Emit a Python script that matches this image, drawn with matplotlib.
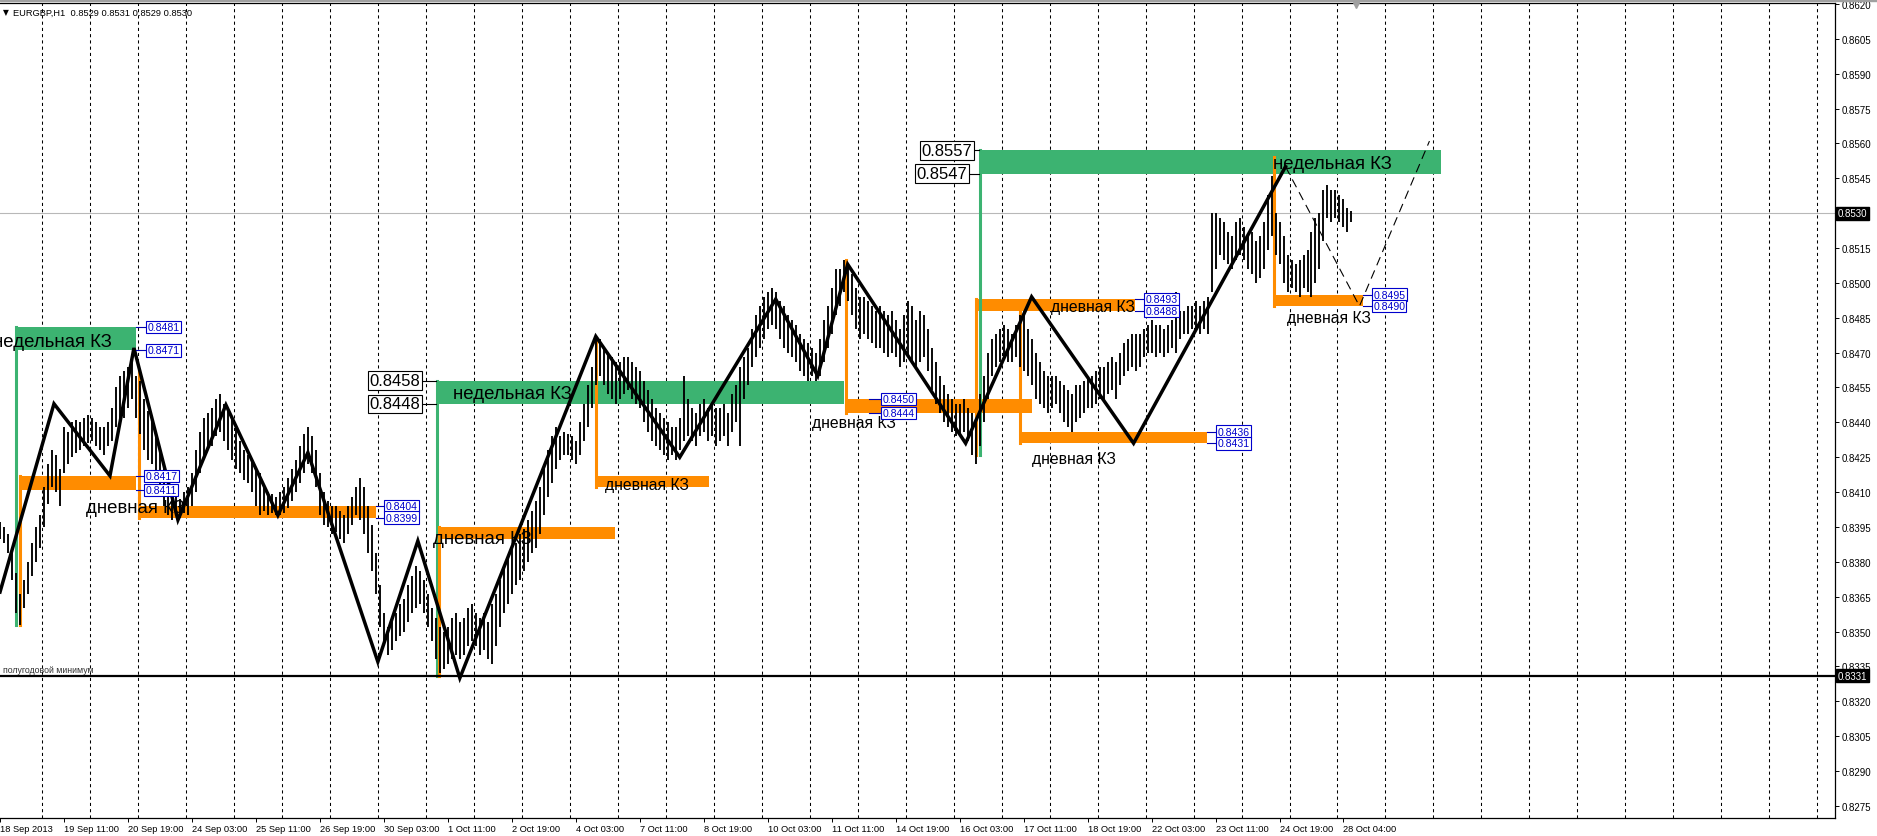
import numpy as np
import matplotlib.pyplot as plt
from matplotlib.patches import Rectangle
from matplotlib.transforms import blended_transform_factory

plt.rcParams['font.family'] = ['Liberation Sans', 'DejaVu Sans']

# EURGBP H1, every second hourly bar; values in pips above 0.8300
bar_lo = [90, 88, 84, 72, 58, 53, 60, 66, 74, 80,
          86, 95, 105, 112, 110, 104, 118, 122, 125, 127,
          128, 130, 131, 132, 130, 128, 126, 130, 132, 138,
          140, 142, 146, 150, 142, 135, 128, 124, 122, 115,
          110, 104, 100, 98, 100, 99, 101, 100, 104, 110,
          118, 126, 128, 130, 134, 136, 132, 128, 124, 120,
          118, 115, 114, 110, 104, 100, 102, 100, 101, 100,
          100, 101, 103, 106, 110, 114, 118, 122, 118, 112,
          100, 96, 95, 92, 93, 90, 88, 92, 96, 100,
          98, 92, 84, 76, 66, 52, 44, 40, 42, 46,
          48, 50, 54, 58, 60, 62, 58, 52, 46, 38,
          32, 34, 36, 38, 40, 38, 40, 44, 46, 44,
          40, 42, 38, 36, 44, 52, 58, 62, 66, 70,
          72, 76, 80, 84, 86, 92, 100, 108, 114, 120,
          124, 126, 126, 124, 122, 126, 132, 138, 146, 156,
          160, 156, 152, 150, 148, 150, 152, 154, 150, 148,
          146, 140, 136, 132, 130, 128, 126, 124, 126, 124,
          128, 132, 134, 132, 130, 134, 136, 132, 134, 130,
          132, 134, 130, 136, 140, 130, 150, 156, 164, 168,
          172, 176, 180, 182, 180, 176, 172, 170, 168, 166,
          162, 160, 158, 160, 158, 160, 166, 172, 178, 186,
          190, 196, 192, 186, 180, 176, 178, 176, 174, 172,
          172, 170, 168, 170, 168, 164, 166, 168, 166, 164,
          166, 168, 162, 154, 148, 144, 140, 138, 136, 134,
          134, 136, 132, 126, 122, 130, 140, 150, 160, 164,
          166, 168, 166, 166, 168, 164, 162, 160, 156, 150,
          148, 146, 144, 146, 148, 144, 140, 138, 136, 140,
          142, 144, 146, 146, 148, 150, 150, 152, 154, 150,
          156, 160, 162, 164, 162, 164, 168, 170, 170, 168,
          170, 168, 170, 172, 170, 176, 178, 178, 180, 180,
          178, 180, 178, 196, 206, 212, 210, 208, 206, 210,
          212, 210, 206, 204, 200, 202, 206, 214, 220, 212,
          208, 200, 196, 198, 196, 194, 198, 196, 194, 200,
          206, 218, 228, 226, 228, 226, 224, 222, 226]
bar_hi = [97, 95, 92, 86, 75, 66, 72, 80, 88, 95,
          100, 112, 122, 128, 126, 120, 138, 136, 140, 141,
          140, 142, 143, 142, 140, 138, 138, 140, 146, 155,
          160, 162, 164, 168, 160, 158, 150, 145, 140, 134,
          128, 120, 114, 108, 108, 107, 110, 112, 118, 128,
          136, 142, 144, 146, 150, 152, 148, 145, 142, 138,
          132, 128, 126, 124, 120, 118, 112, 110, 109, 108,
          110, 112, 116, 120, 124, 130, 135, 138, 134, 128,
          118, 110, 106, 104, 104, 102, 100, 104, 108, 112,
          116, 112, 104, 96, 84, 70, 58, 52, 55, 58,
          62, 64, 70, 74, 78, 76, 72, 66, 60, 56,
          52, 50, 52, 56, 58, 54, 56, 60, 62, 58,
          56, 58, 54, 62, 66, 72, 78, 82, 86, 88,
          92, 94, 98, 102, 106, 112, 120, 128, 134, 138,
          134, 136, 135, 134, 132, 140, 148, 156, 164, 176,
          176, 172, 170, 168, 166, 166, 168, 168, 166, 164,
          162, 158, 154, 150, 146, 144, 142, 140, 138, 138,
          142, 160, 150, 146, 144, 148, 150, 146, 148, 146,
          146, 148, 144, 152, 156, 164, 168, 172, 180, 186,
          190, 194, 196, 198, 196, 192, 190, 186, 184, 182,
          178, 176, 174, 172, 170, 176, 184, 190, 198, 206,
          206, 210, 208, 204, 198, 194, 194, 192, 190, 188,
          190, 188, 186, 188, 184, 180, 186, 192, 190, 184,
          188, 186, 180, 172, 166, 160, 156, 152, 150, 148,
          148, 150, 146, 144, 140, 152, 160, 170, 176, 178,
          180, 182, 180, 178, 182, 186, 188, 180, 176, 170,
          166, 162, 160, 160, 160, 158, 156, 154, 152, 156,
          156, 158, 160, 160, 162, 164, 164, 166, 168, 166,
          170, 174, 176, 178, 178, 178, 180, 182, 184, 182,
          182, 180, 182, 184, 196, 188, 188, 190, 190, 192,
          190, 192, 194, 230, 230, 228, 226, 222, 220, 226,
          228, 224, 220, 222, 218, 220, 226, 238, 246, 230,
          226, 220, 212, 210, 208, 210, 212, 214, 222, 228,
          230, 240, 242, 240, 240, 238, 236, 232, 231]

# x axis labels (one every 32 bars)
time_labels = ['18 Sep 2013', '19 Sep 11:00', '20 Sep 19:00', '24 Sep 03:00', '25 Sep 11:00',
               '26 Sep 19:00', '30 Sep 03:00', '1 Oct 11:00', '2 Oct 19:00', '4 Oct 03:00',
               '7 Oct 11:00', '8 Oct 19:00', '10 Oct 03:00', '11 Oct 11:00', '14 Oct 19:00',
               '16 Oct 03:00', '17 Oct 11:00', '18 Oct 19:00', '22 Oct 03:00', '23 Oct 11:00',
               '24 Oct 19:00', '28 Oct 04:00']

# zigzag (bar index, price) and the dashed projection
zz_bar = [0, 27, 55, 67, 89, 113, 139, 154, 189, 209, 230, 298, 340, 388, 409, 424, 483, 516, 567, 643]
zz_px = [0.8367, 0.8448, 0.8417, 0.8472, 0.8398, 0.84475, 0.8400, 0.8427, 0.8337, 0.8389,
         0.8330, 0.8477, 0.8425, 0.8493, 0.8460, 0.8508, 0.8431, 0.8494, 0.8431, 0.8550]
proj_bar = [643, 680, 715]
proj_px = [0.8550, 0.8490, 0.8561]

# weekly zones (green): start bar, end bar, top, bottom, end of the stem line
wk_x0 = [7.35, 217.85, 489.85]
wk_x1 = [67.85, 422.35, 720.85]
wk_hi = [0.8481, 0.8458, 0.8557]
wk_lo = [0.8471, 0.8448, 0.8547]
wk_stem = [0.8353, 0.8331, 0.8426]

# daily zones (orange)
dy_x0 = [9.35, 68.85, 218.85, 297.85, 422.85, 487.85, 509.85, 636.85]
dy_x1 = [67.85, 187.85, 307.85, 354.85, 516.35, 567.85, 603.85, 681.85]
dy_hi = [0.8417, 0.8404, 0.8395, 0.8417, 0.8450, 0.8493, 0.8436, 0.8495]
dy_lo = [0.8411, 0.8399, 0.8390, 0.8412, 0.8444, 0.8488, 0.8431, 0.8490]
dy_stem = [0.8353, 0.8462, 0.8331, 0.8476, 0.8510, 0.8426, 0.8492, 0.8554]

half_year_low = 0.8331
last_bid = 0.8530

GREEN = '#3cb371'
ORANGE = '#ff8c00'
W, H = 1877, 837

fig = plt.figure(figsize=(W / 100, H / 100), dpi=100)
ax = fig.add_axes([0, (H - 819) / H, 1835 / W, (819 - 4) / H])
ax.set_xlim(0.35, 917.85)
ax.set_ylim(0.82698, 0.86204)

# daily vertical grid
for g in range(21, 918, 24):
    ax.axvline(g, color='black', lw=0.75, ls=(0, (3, 3)), zorder=0.5)

# zones
for x0, x1, hi, lo, st in zip(wk_x0, wk_x1, wk_hi, wk_lo, wk_stem):
    ax.add_patch(Rectangle((x0, lo), x1 - x0, hi - lo, color=GREEN, lw=0, zorder=1))
    ax.plot([x0 + 0.5, x0 + 0.5], [hi, st], color=GREEN, lw=2.2, zorder=1.2)
for x0, x1, hi, lo, st in zip(dy_x0, dy_x1, dy_hi, dy_lo, dy_stem):
    ax.add_patch(Rectangle((x0, lo), x1 - x0, hi - lo, color=ORANGE, lw=0, zorder=1))
    top = max(hi, st)
    bot = min(lo, st)
    ax.plot([x0 + 0.5, x0 + 0.5], [top, bot], color=ORANGE, lw=2.2, zorder=1.3)

# price bars
bx = np.arange(len(bar_lo)) * 2
ax.vlines(bx, 0.83 + np.array(bar_lo) / 1e4, 0.83 + np.array(bar_hi) / 1e4,
          color='black', lw=1.35, zorder=2)

ax.axhline(half_year_low, color='black', lw=1.6, zorder=2.5)
ax.axhline(last_bid, color='#b8b8b8', lw=0.8, zorder=0.6)

ax.plot(zz_bar, zz_px, color='black', lw=2.5, zorder=4, solid_joinstyle='miter')
ax.plot(proj_bar, proj_px, color='black', lw=0.8, ls=(0, (8, 5)), zorder=4)

# zone captions
big, small = 13.4, 11.3
captions = [(-3.65, 0.84746, 'недельная КЗ', big), (42.85, 0.84032, 'дневная КЗ', big),
            (226.35, 0.84522, 'недельная КЗ', big), (216.35, 0.83899, 'дневная КЗ', big),
            (302.85, 0.84131, 'дневная КЗ', small), (406.35, 0.84398, 'дневная КЗ', small),
            (525.85, 0.84897, 'дневная КЗ', small), (636.85, 0.85512, 'недельная КЗ', big),
            (643.85, 0.84853, 'дневная КЗ', small), (516.35, 0.84243, 'дневная КЗ', small)]
for x, y, s, fs in captions:
    ax.text(x, y, s, fontsize=fs, ha='left', va='center', color='black', zorder=5)


def blue_tag(x, price, txt, gap=6):
    ax.plot([x, x + gap], [price, price], color='#0000b0', lw=0.8, zorder=5)
    ax.text(x + gap, price, txt, color='#0000cc', fontsize=7.6, ha='left', va='center', zorder=6,
            bbox=dict(boxstyle='square,pad=0.12', fc='white', ec='#0000cc', lw=0.8))


def black_tag(x, price, txt, gap):
    ax.plot([x - gap, x], [price, price], color='black', lw=0.8, zorder=5)
    ax.text(x - gap, price, txt, color='black', fontsize=12, ha='right', va='center', zorder=6,
            bbox=dict(boxstyle='square,pad=0.1', fc='white', ec='black', lw=0.8))


blue_tag(wk_x1[0], wk_hi[0], f'{wk_hi[0]:.4f}')
blue_tag(wk_x1[0], wk_lo[0], f'{wk_lo[0]:.4f}')
for i in [0, 1, 5, 6, 7]:
    blue_tag(dy_x1[i], dy_hi[i], f'{dy_hi[i]:.4f}', gap=5)
    blue_tag(dy_x1[i], dy_lo[i], f'{dy_lo[i]:.4f}', gap=5)
blue_tag(434.5, dy_hi[4], f'{dy_hi[4]:.4f}', gap=7)
blue_tag(434.5, dy_lo[4], f'{dy_lo[4]:.4f}', gap=7)
black_tag(wk_x0[1], wk_hi[1], f'{wk_hi[1]:.4f}', 7.5)
black_tag(wk_x0[1], wk_lo[1], f'{wk_lo[1]:.4f}', 7.5)
black_tag(wk_x0[2], wk_hi[2], f'{wk_hi[2]:.4f}', 3.5)
black_tag(wk_x0[2], wk_lo[2], f'{wk_lo[2]:.4f}', 6)

ax.text(1.4, half_year_low + 0.00006, 'полугодовой минимум', fontsize=6.3, color='#333333',
        ha='left', va='bottom', zorder=5)

# axes cosmetics
ax.spines['left'].set_visible(False)
for side in ['right', 'bottom', 'top']:
    ax.spines[side].set_linewidth(0.9)
ax.yaxis.tick_right()
yt = np.round(0.8275 + 0.0015 * np.arange(24), 4)
ax.set_yticks(yt)
# the bid box covers its own tick label
ax.set_yticklabels(['' if abs(v - last_bid) < 1e-6 else f'{v:.4f}' for v in yt])
ax.tick_params(axis='y', direction='out', length=3, width=0.7, labelsize=7, pad=2)
ax.set_xticks(np.arange(len(time_labels)) * 32)
ax.set_xticklabels(time_labels)
for lab in ax.get_xticklabels():
    lab.set_ha('left')
ax.tick_params(axis='x', direction='out', length=3, width=0.7, labelsize=6.7, pad=1.5)

tr = blended_transform_factory(ax.transAxes, ax.transData)
for v in [last_bid, half_year_low]:
    ax.text(1.0015, v, f'{v:.4f}', transform=tr, color='white', fontsize=7, ha='left', va='center',
            bbox=dict(boxstyle='square,pad=0.15', fc='black', ec='black'), zorder=7, clip_on=False)

ax.plot([678.4], [0.86195], marker='v', color='#a0a0a0', ms=5, clip_on=False, zorder=7)

fig.add_artist(Rectangle((0, 1 - 2 / H), 1, 2 / H, transform=fig.transFigure, color='#a0a0a0'))
fig.text(3 / W, 1 - 13 / H, '▼', fontsize=5.5, va='center', ha='left', family='DejaVu Sans')
fig.text(13 / W, 1 - 13 / H, 'EURGBP,H1  0.8529 0.8531 0.8529 0.8530', fontsize=6.7,
         va='center', ha='left')

fig.savefig('out.png', dpi=100, facecolor='white')
